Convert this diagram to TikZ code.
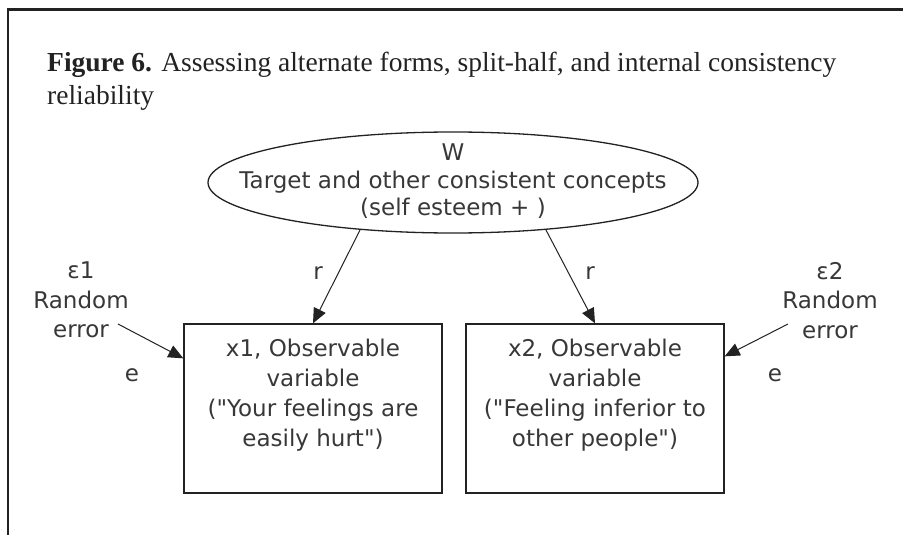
\documentclass[tikz,border=0pt]{standalone}
\usepackage{fontspec}
\setmainfont{Liberation Serif}
\newfontfamily\diagfont{DejaVu Sans}
\usetikzlibrary{arrows.meta,calc,shapes.geometric}
\definecolor{ink}{HTML}{222222}
\definecolor{txt}{HTML}{383838}
\begin{document}
\begin{tikzpicture}[x=1pt,y=-1pt,
  frame/.style={line width=2.6pt,draw=ink},
  caption/.style={font=\fontsize{27.5}{33}\selectfont,text=ink,inner sep=0pt,anchor=base west},
  latent/.style={ellipse,draw=ink,line width=1.3pt,minimum width=490pt,minimum height=101pt,inner sep=0pt},
  obsbox/.style={rectangle,draw=ink,line width=1.3pt,minimum width=258pt,minimum height=169pt,inner sep=0pt},
  lbl/.style={font=\diagfont\fontsize{23}{29.5}\selectfont,text=txt,align=center,inner sep=0pt},
  boxtext/.style={font=\diagfont\fontsize{23}{30}\selectfont,text=txt,align=center,inner sep=0pt,anchor=north},
  lattext/.style={font=\diagfont\fontsize{23}{27.5}\selectfont,text=txt,align=center,inner sep=0pt,anchor=north},
  link/.style={draw=ink,line width=1pt,-{Triangle[length=15pt,width=13pt]}},
]
\useasboundingbox (0,0) rectangle (903,535);
\fill[white] (0,0) rectangle (903,535);

% frame: left rule and top rule
\draw[frame] (8,537) -- (8,9.5) -- (905,9.5);

% caption
\node[caption] (cap1) at (47,72) {\textbf{Figure 6.} Assessing alternate forms, split-half, and internal consistency};
\node[caption] (cap2) at (47,105) {reliability};

% latent concept
\node[latent] (W) at (453,182.5) {};
\node[lattext] (Wtext) at (453,144) {W\\Target and other consistent concepts\\(self esteem + )};

% observed variables
\node[obsbox] (X1) at (313,408.5) {};
\node[obsbox] (X2) at (595,408.5) {};
\node[boxtext] (X1text) at ($(X1.north)+(0,15.5)$) {x1, Observable\\variable\\("Your feelings are\\easily hurt")};
\node[boxtext] (X2text) at ($(X2.north)+(0,15.5)$) {x2, Observable\\variable\\("Feeling inferior to\\other people")};

% loadings
\draw[link] (W.207) -- (X1.north);
\draw[link] (W.-27.5) -- (X2.north);
\node[lbl] (r1) at (318,273) {r};
\node[lbl] (r2) at (590,273) {r};

% random errors
\node[lbl,anchor=north] (eps1) at (81,262) {ε1\\Random\\error};
\node[lbl,anchor=north] (eps2) at (830,262) {ε2\\Random\\error};
\coordinate (t1) at (118,324);
\coordinate (t2) at (788,324);
\coordinate (h1) at ($(X1.north west)+(0,35)$);
\coordinate (h2) at ($(X2.north east)+(0,33)$);
\draw[link] (t1) -- (h1);
\draw[link] (t2) -- (h2);
\node[lbl] (e1) at (132,375.5) {e};
\node[lbl] (e2) at (775,375.5) {e};
\end{tikzpicture}
\end{document}
